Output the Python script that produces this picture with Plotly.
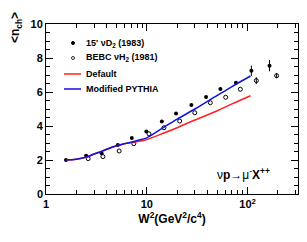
import plotly.graph_objects as go

# 15' nu D2 (1983) - filled
w2_d2 = [1.58, 2.5, 3.56, 5.16, 7.1, 9.9, 14.1, 19.5, 27.7, 38.7, 53.7, 76.6, 109, 165]
n_d2 = [2.0, 2.25, 2.39, 2.88, 3.29, 3.68, 4.27, 4.73, 5.24, 5.71, 6.18, 6.55, 7.25, 7.55]
e_d2 = [0, 0, 0, 0, 0, 0, 0, 0, 0, 0, 0, 0, 0.3, 0.33]

# BEBC nu H2 (1981) - open
w2_h2 = [2.62, 3.67, 5.32, 7.43, 10.5, 14.8, 21.2, 29.9, 42.7, 60.6, 84.7, 122, 194]
n_h2 = [2.08, 2.2, 2.53, 2.96, 3.54, 3.9, 4.29, 4.78, 5.37, 5.69, 6.16, 6.67, 6.96]
e_h2 = [0, 0, 0, 0, 0, 0, 0, 0, 0, 0, 0, 0.2, 0.15]

# Default PYTHIA (red)
w2_def = [1.58, 2.0, 2.5, 3.0, 3.6, 4.5, 5.5, 7.0, 9.0, 10, 15, 20, 30, 50, 70, 107]
n_def = [2.0, 2.05, 2.17, 2.35, 2.52, 2.75, 2.9, 3.03, 3.13, 3.2, 3.6, 3.9, 4.35, 4.9, 5.3, 5.78]

# Modified PYTHIA (blue)
w2_mod = [1.58, 2.0, 2.5, 3.0, 3.6, 4.5, 5.5, 7.0, 9.0, 10, 15, 20, 30, 50, 70, 107]
n_mod = [2.0, 2.05, 2.17, 2.35, 2.52, 2.75, 2.9, 3.05, 3.22, 3.3, 3.95, 4.4, 5.0, 5.8, 6.32, 6.94]

legend_labels = ["15' νD<sub>2</sub> (1983)", "BEBC νH<sub>2</sub> (1981)", "Default", "Modified PYTHIA"]
y_ticks = [0, 2, 4, 6, 8, 10]
x_ticks = [1, 10, 100]
x_ticktext = ["1", "10", "10<sup>2</sup>"]

FONT = "Liberation Sans"
RED = "#ff2020"
BLUE = "#1010e0"
TICKFONT = dict(family=FONT, size=11, color="black", weight="bold")

# plot-area geometry in pixels (for paper-coordinate placement of text)
L, R, T, B = 46, 298, 24, 194
def px(xp):
    return (xp - L) / (R - L)
def py(yp):
    return (B - yp) / (B - T)

fig = go.Figure()
fig.add_trace(go.Scatter(
    x=w2_d2, y=n_d2, mode="markers", name=legend_labels[0], showlegend=False,
    marker=dict(symbol="circle", size=4, color="black"),
    error_y=dict(type="data", array=e_d2, visible=True, color="black", thickness=1, width=0),
))
fig.add_trace(go.Scatter(
    x=w2_h2, y=n_h2, mode="markers", name=legend_labels[1], showlegend=False,
    marker=dict(symbol="circle-open", size=4, color="black", line=dict(width=1)),
    error_y=dict(type="data", array=e_h2, visible=True, color="black", thickness=1, width=0),
))
fig.add_trace(go.Scatter(
    x=w2_def, y=n_def, mode="lines", name=legend_labels[2], showlegend=False,
    line=dict(color=RED, width=1.5, shape="spline"),
))
fig.add_trace(go.Scatter(
    x=w2_mod, y=n_mod, mode="lines", name=legend_labels[3], showlegend=False,
    line=dict(color=BLUE, width=1.5, shape="spline"),
))

# manual legend (compact row spacing like the reference)
rows_y = [43, 58, 74, 89]
fig.add_shape(type="circle", xref="paper", yref="paper",
              x0=px(71.5), x1=px(74.5), y0=py(44.5), y1=py(41.5),
              fillcolor="black", line=dict(color="black", width=1))
fig.add_shape(type="circle", xref="paper", yref="paper",
              x0=px(71.5), x1=px(74.5), y0=py(59.5), y1=py(56.5),
              fillcolor="white", line=dict(color="black", width=0.8))
fig.add_shape(type="line", xref="paper", yref="paper",
              x0=px(64), x1=px(81), y0=py(74), y1=py(74), line=dict(color=RED, width=1.5))
fig.add_shape(type="line", xref="paper", yref="paper",
              x0=px(64), x1=px(81), y0=py(89), y1=py(89), line=dict(color=BLUE, width=1.5))
for lab, yy in zip(legend_labels, rows_y):
    fig.add_annotation(x=px(84), y=py(yy), xref="paper", yref="paper",
                       xanchor="left", yanchor="middle", showarrow=False, text=lab,
                       font=dict(family=FONT, size=9, color="black", weight="bold"))

fig.add_annotation(
    x=px(272), y=py(174), xref="paper", yref="paper",
    xanchor="right", yanchor="middle",
    text="ν<b>p</b>→μ<sup>-</sup><b>X</b><sup><b>++</b></sup>", showarrow=False,
    font=dict(family=FONT, size=12, color="black"),
)

# y-axis title (placed at the top like the reference)
fig.add_annotation(
    x=px(16), y=py(28), xref="paper", yref="paper",
    xanchor="center", yanchor="middle", textangle=-90, showarrow=False,
    text="<n<sub>ch</sub>>",
    font=dict(family=FONT, size=12, color="black", weight="bold"),
)

# the "0" label at the axis corner (plotly suppresses it there)
fig.add_annotation(
    x=px(44.5), y=py(194), xref="paper", yref="paper", xanchor="right", yanchor="middle",
    showarrow=False, text=str(y_ticks[0]), font=TICKFONT,
)

axis_common = dict(
    showline=True, linecolor="black", linewidth=1, mirror="allticks",
    ticks="inside", ticklen=7, tickcolor="black", showgrid=False, zeroline=False,
    automargin=False, tickfont=TICKFONT,
)

fig.update_xaxes(
    type="log", range=[0, 2.5],
    tickvals=x_ticks, ticktext=x_ticktext,
    minor=dict(ticks="inside", ticklen=4, tickcolor="black", showgrid=False,
               tickvals=[2, 3, 4, 5, 6, 7, 8, 9, 20, 30, 40, 50, 60, 70, 80, 90, 200, 300]),
    title=dict(text="W<sup>2</sup>(GeV<sup>2</sup>/c<sup>4</sup>)",
               font=dict(family=FONT, size=12, color="black", weight="bold"), standoff=4),
    **axis_common,
)
fig.update_yaxes(
    range=[0, 10], tickvals=y_ticks[1:],
    minor=dict(ticks="inside", ticklen=4, tickcolor="black", showgrid=False, dtick=0.5),
    **axis_common,
)

fig.update_layout(
    width=307, height=242,
    margin=dict(l=L, r=307 - R, t=T, b=242 - B, autoexpand=False),
    paper_bgcolor="white", plot_bgcolor="white",
    showlegend=False,
)

fig.write_html("out.html", config={"displayModeBar": False})

# remove default page margin so the figure sits at the window origin
with open("out.html", "r", encoding="utf-8") as f:
    html = f.read()
html = html.replace("<head>", "<head><style>html,body{margin:0;padding:0;overflow:hidden;}</style>", 1)
with open("out.html", "w", encoding="utf-8") as f:
    f.write(html)
